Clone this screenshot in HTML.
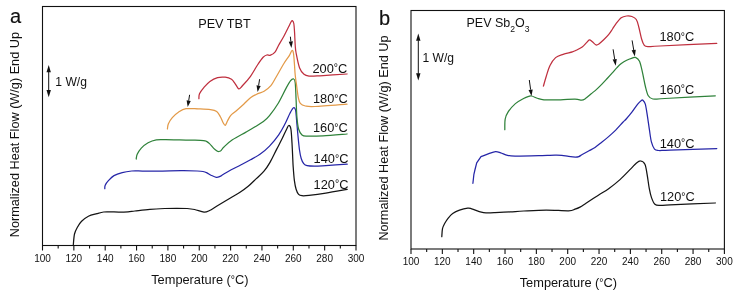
<!DOCTYPE html><html><head><meta charset="utf-8"><style>html,body{margin:0;padding:0;background:#fff;width:737px;height:294px;overflow:hidden}svg{display:block;will-change:transform}text{font-family:"Liberation Sans",sans-serif;fill:#111}</style></head><body>
<svg width="737" height="294" viewBox="0 0 737 294">
<rect x="42.50" y="6.50" width="313.50" height="239.00" fill="none" stroke="#111" stroke-width="1.1"/><line x1="42.50" y1="245.50" x2="42.50" y2="250.50" stroke="#111" stroke-width="1.1"/><text x="42.50" y="261.80" font-size="10" text-anchor="middle">100</text><line x1="58.17" y1="245.50" x2="58.17" y2="248.50" stroke="#111" stroke-width="1.1"/><line x1="73.85" y1="245.50" x2="73.85" y2="250.50" stroke="#111" stroke-width="1.1"/><text x="73.85" y="261.80" font-size="10" text-anchor="middle">120</text><line x1="89.53" y1="245.50" x2="89.53" y2="248.50" stroke="#111" stroke-width="1.1"/><line x1="105.20" y1="245.50" x2="105.20" y2="250.50" stroke="#111" stroke-width="1.1"/><text x="105.20" y="261.80" font-size="10" text-anchor="middle">140</text><line x1="120.88" y1="245.50" x2="120.88" y2="248.50" stroke="#111" stroke-width="1.1"/><line x1="136.55" y1="245.50" x2="136.55" y2="250.50" stroke="#111" stroke-width="1.1"/><text x="136.55" y="261.80" font-size="10" text-anchor="middle">160</text><line x1="152.23" y1="245.50" x2="152.23" y2="248.50" stroke="#111" stroke-width="1.1"/><line x1="167.90" y1="245.50" x2="167.90" y2="250.50" stroke="#111" stroke-width="1.1"/><text x="167.90" y="261.80" font-size="10" text-anchor="middle">180</text><line x1="183.58" y1="245.50" x2="183.58" y2="248.50" stroke="#111" stroke-width="1.1"/><line x1="199.25" y1="245.50" x2="199.25" y2="250.50" stroke="#111" stroke-width="1.1"/><text x="199.25" y="261.80" font-size="10" text-anchor="middle">200</text><line x1="214.93" y1="245.50" x2="214.93" y2="248.50" stroke="#111" stroke-width="1.1"/><line x1="230.60" y1="245.50" x2="230.60" y2="250.50" stroke="#111" stroke-width="1.1"/><text x="230.60" y="261.80" font-size="10" text-anchor="middle">220</text><line x1="246.28" y1="245.50" x2="246.28" y2="248.50" stroke="#111" stroke-width="1.1"/><line x1="261.95" y1="245.50" x2="261.95" y2="250.50" stroke="#111" stroke-width="1.1"/><text x="261.95" y="261.80" font-size="10" text-anchor="middle">240</text><line x1="277.62" y1="245.50" x2="277.62" y2="248.50" stroke="#111" stroke-width="1.1"/><line x1="293.30" y1="245.50" x2="293.30" y2="250.50" stroke="#111" stroke-width="1.1"/><text x="293.30" y="261.80" font-size="10" text-anchor="middle">260</text><line x1="308.98" y1="245.50" x2="308.98" y2="248.50" stroke="#111" stroke-width="1.1"/><line x1="324.65" y1="245.50" x2="324.65" y2="250.50" stroke="#111" stroke-width="1.1"/><text x="324.65" y="261.80" font-size="10" text-anchor="middle">280</text><line x1="340.32" y1="245.50" x2="340.32" y2="248.50" stroke="#111" stroke-width="1.1"/><line x1="356.00" y1="245.50" x2="356.00" y2="250.50" stroke="#111" stroke-width="1.1"/><text x="356.00" y="261.80" font-size="10" text-anchor="middle">300</text>
<text x="10" y="23" font-size="20" stroke="#111" stroke-width="0.15">a</text>
<text transform="translate(18.9 134.6) rotate(-90)" font-size="12.7" text-anchor="middle">Normalized Heat Flow (W/g) End Up</text>
<text x="199.9" y="284.1" font-size="12.8" text-anchor="middle">Temperature (<tspan font-size="10.5" dy="-1.5">°</tspan><tspan dy="1.5">C)</tspan></text>
<text x="198.2" y="27.9" font-size="12.7">PEV TBT</text>
<line x1="48.70" y1="71.70" x2="48.70" y2="90.50" stroke="#111" stroke-width="1"/><polygon points="48.70,65.00 46.50,72.20 50.90,72.20" fill="#111"/><polygon points="48.70,97.20 46.50,90.00 50.90,90.00" fill="#111"/>
<text x="55.3" y="86.1" font-size="12.1">1 W/g</text>
<text x="347.3" y="72.8" font-size="12.8" text-anchor="end">200<tspan font-size="10.5" dy="-1.5">°</tspan><tspan dy="1.5">C</tspan></text>
<text x="347.8" y="103.0" font-size="12.8" text-anchor="end">180<tspan font-size="10.5" dy="-1.5">°</tspan><tspan dy="1.5">C</tspan></text>
<text x="347.8" y="132.4" font-size="12.8" text-anchor="end">160<tspan font-size="10.5" dy="-1.5">°</tspan><tspan dy="1.5">C</tspan></text>
<text x="348.4" y="163.0" font-size="12.8" text-anchor="end">140<tspan font-size="10.5" dy="-1.5">°</tspan><tspan dy="1.5">C</tspan></text>
<text x="348.4" y="188.6" font-size="12.8" text-anchor="end">120<tspan font-size="10.5" dy="-1.5">°</tspan><tspan dy="1.5">C</tspan></text>
<path d="M73.30 245.00 C73.50 243.17 73.82 236.97 74.50 234.00 C75.18 231.03 76.22 229.32 77.40 227.20 C78.58 225.08 79.77 223.13 81.60 221.30 C83.43 219.47 85.85 217.48 88.40 216.20 C90.95 214.92 94.35 214.30 96.90 213.60 C99.45 212.90 101.43 212.28 103.70 212.00 C105.97 211.72 107.95 211.88 110.50 211.90 C113.05 211.92 116.08 212.12 119.00 212.10 C121.92 212.08 125.35 211.98 128.00 211.80 C130.65 211.62 131.25 211.42 134.90 211.00 C138.55 210.58 144.92 209.72 149.90 209.30 C154.88 208.88 160.33 208.67 164.80 208.50 C169.27 208.33 172.97 208.30 176.70 208.30 C180.43 208.30 184.22 208.30 187.20 208.50 C190.18 208.70 191.80 208.90 194.60 209.50 C197.40 210.10 201.50 211.93 204.00 212.10 C206.50 212.27 207.43 211.52 209.60 210.50 C211.77 209.48 213.53 208.08 217.00 206.00 C220.47 203.92 226.57 200.28 230.40 198.00 C234.23 195.72 237.03 194.25 240.00 192.30 C242.97 190.35 245.48 188.58 248.20 186.30 C250.92 184.02 253.67 181.12 256.30 178.60 C258.93 176.08 261.72 173.90 264.00 171.20 C266.28 168.50 267.90 166.03 270.00 162.40 C272.10 158.77 274.55 153.42 276.60 149.40 C278.65 145.38 280.63 141.67 282.30 138.30 C283.97 134.93 285.52 131.33 286.60 129.20 C287.68 127.07 288.08 125.53 288.80 125.50 C289.52 125.47 290.37 126.08 290.90 129.00 C291.43 131.92 291.72 138.67 292.00 143.00 C292.28 147.33 292.40 151.00 292.60 155.00 C292.80 159.00 292.90 162.72 293.20 167.00 C293.50 171.28 293.92 177.00 294.40 180.70 C294.88 184.40 295.40 186.93 296.10 189.20 C296.80 191.47 297.62 193.22 298.60 194.30 C299.58 195.38 300.27 195.52 302.00 195.70 C303.73 195.88 305.03 195.82 309.00 195.40 C312.97 194.98 319.43 194.20 325.80 193.20 C332.17 192.20 343.63 190.03 347.20 189.40" fill="none" stroke="#141414" stroke-width="1.25" stroke-linecap="round" stroke-linejoin="round"/>
<path d="M104.80 188.60 C104.87 188.03 104.57 186.57 105.20 185.20 C105.83 183.83 107.13 182.00 108.60 180.40 C110.07 178.80 111.73 176.90 114.00 175.60 C116.27 174.30 119.25 173.37 122.20 172.60 C125.15 171.83 128.98 171.28 131.70 171.00 C134.42 170.72 136.00 170.87 138.50 170.90 C141.00 170.93 143.75 171.15 146.70 171.20 C149.65 171.25 152.32 171.27 156.20 171.20 C160.08 171.13 165.43 170.88 170.00 170.80 C174.57 170.72 179.07 170.67 183.60 170.70 C188.13 170.73 193.97 170.87 197.20 171.00 C200.43 171.13 201.37 171.18 203.00 171.50 C204.63 171.82 205.67 172.28 207.00 172.90 C208.33 173.52 209.45 174.47 211.00 175.20 C212.55 175.93 214.80 177.10 216.30 177.30 C217.80 177.50 218.80 176.92 220.00 176.40 C221.20 175.88 221.63 175.30 223.50 174.20 C225.37 173.10 228.33 171.33 231.20 169.80 C234.07 168.27 237.48 166.67 240.70 165.00 C243.92 163.33 247.23 161.63 250.50 159.80 C253.77 157.97 257.13 156.28 260.30 154.00 C263.47 151.72 266.43 149.30 269.50 146.10 C272.57 142.90 276.15 138.43 278.70 134.80 C281.25 131.17 282.90 127.93 284.80 124.30 C286.70 120.67 288.65 115.75 290.10 113.00 C291.55 110.25 292.58 108.27 293.50 107.80 C294.42 107.33 295.08 108.10 295.60 110.20 C296.12 112.30 296.23 116.43 296.60 120.40 C296.97 124.37 297.32 129.07 297.80 134.00 C298.28 138.93 298.93 145.92 299.50 150.00 C300.07 154.08 300.50 156.23 301.20 158.50 C301.90 160.77 302.72 162.40 303.70 163.60 C304.68 164.80 305.22 165.27 307.10 165.70 C308.98 166.13 311.88 166.22 315.00 166.20 C318.12 166.18 320.43 165.95 325.80 165.60 C331.17 165.25 343.63 164.35 347.20 164.10" fill="none" stroke="#2626a8" stroke-width="1.25" stroke-linecap="round" stroke-linejoin="round"/>
<path d="M136.20 159.00 C136.37 158.22 136.35 156.12 137.20 154.30 C138.05 152.48 139.48 150.03 141.30 148.10 C143.12 146.17 145.60 144.08 148.10 142.70 C150.60 141.32 153.35 140.32 156.30 139.80 C159.25 139.28 161.95 139.58 165.80 139.60 C169.65 139.62 174.53 139.80 179.40 139.90 C184.27 140.00 190.98 140.08 195.00 140.20 C199.02 140.32 201.58 140.40 203.50 140.60 C205.42 140.80 205.50 140.90 206.50 141.40 C207.50 141.90 208.30 142.43 209.50 143.60 C210.70 144.77 212.45 147.17 213.70 148.40 C214.95 149.63 216.15 150.48 217.00 151.00 C217.85 151.52 218.13 151.57 218.80 151.50 C219.47 151.43 220.15 151.35 221.00 150.60 C221.85 149.85 222.00 148.80 223.90 147.00 C225.80 145.20 228.72 142.28 232.40 139.80 C236.08 137.32 242.37 134.18 246.00 132.10 C249.63 130.02 251.30 129.07 254.20 127.30 C257.10 125.53 260.85 123.45 263.40 121.50 C265.95 119.55 267.00 118.68 269.50 115.60 C272.00 112.52 275.65 107.53 278.40 103.00 C281.15 98.47 283.97 92.12 286.00 88.40 C288.03 84.68 289.37 82.28 290.60 80.70 C291.83 79.12 292.63 78.63 293.40 78.90 C294.17 79.17 294.75 78.78 295.20 82.30 C295.65 85.82 295.82 94.22 296.10 100.00 C296.38 105.78 296.48 112.17 296.90 117.00 C297.32 121.83 297.75 126.02 298.60 129.00 C299.45 131.98 300.58 133.72 302.00 134.90 C303.42 136.08 303.60 135.95 307.10 136.10 C310.60 136.25 316.35 136.15 323.00 135.80 C329.65 135.45 343.00 134.30 347.00 134.00" fill="none" stroke="#2f823a" stroke-width="1.25" stroke-linecap="round" stroke-linejoin="round"/>
<path d="M167.40 129.00 C167.57 128.12 167.58 125.60 168.40 123.70 C169.22 121.80 170.63 119.52 172.30 117.60 C173.97 115.68 176.12 113.68 178.40 112.20 C180.68 110.72 182.68 109.25 186.00 108.70 C189.32 108.15 194.22 108.75 198.30 108.90 C202.38 109.05 207.43 109.17 210.50 109.60 C213.57 110.03 215.03 110.27 216.70 111.50 C218.37 112.73 219.45 115.17 220.50 117.00 C221.55 118.83 222.20 121.12 223.00 122.50 C223.80 123.88 224.53 125.58 225.30 125.30 C226.07 125.02 226.72 122.42 227.60 120.80 C228.48 119.18 229.23 117.20 230.60 115.60 C231.97 114.00 233.62 113.10 235.80 111.20 C237.98 109.30 241.25 106.43 243.70 104.20 C246.15 101.97 248.23 99.52 250.50 97.80 C252.77 96.08 255.03 95.00 257.30 93.90 C259.57 92.80 261.83 92.58 264.10 91.20 C266.37 89.82 268.92 87.92 270.90 85.60 C272.88 83.28 273.88 80.90 276.00 77.30 C278.12 73.70 281.38 67.62 283.60 64.00 C285.82 60.38 287.90 57.85 289.30 55.60 C290.70 53.35 291.30 50.85 292.00 50.50 C292.70 50.15 293.08 51.08 293.50 53.50 C293.92 55.92 294.22 61.42 294.50 65.00 C294.78 68.58 294.82 71.33 295.20 75.00 C295.58 78.67 296.28 83.23 296.80 87.00 C297.32 90.77 297.72 94.87 298.30 97.60 C298.88 100.33 299.12 102.00 300.30 103.40 C301.48 104.80 302.95 105.48 305.40 106.00 C307.85 106.52 308.07 106.82 315.00 106.50 C321.93 106.18 341.67 104.50 347.00 104.10" fill="none" stroke="#e39a48" stroke-width="1.25" stroke-linecap="round" stroke-linejoin="round"/>
<path d="M198.90 98.60 C199.00 97.78 198.68 95.53 199.50 93.70 C200.32 91.87 202.07 89.65 203.80 87.60 C205.53 85.55 207.60 83.07 209.90 81.40 C212.20 79.73 215.05 78.30 217.60 77.60 C220.15 76.90 222.88 76.92 225.20 77.20 C227.52 77.48 229.83 78.20 231.50 79.30 C233.17 80.40 233.98 82.22 235.20 83.80 C236.42 85.38 237.60 88.47 238.80 88.80 C240.00 89.13 240.45 87.88 242.40 85.80 C244.35 83.72 247.98 79.77 250.50 76.30 C253.02 72.83 255.40 68.17 257.50 65.00 C259.60 61.83 261.55 58.97 263.10 57.30 C264.65 55.63 265.57 55.35 266.80 55.00 C268.03 54.65 269.10 55.73 270.50 55.20 C271.90 54.67 273.87 53.42 275.20 51.80 C276.53 50.18 277.15 47.92 278.50 45.50 C279.85 43.08 281.63 40.38 283.30 37.30 C284.97 34.22 287.22 29.55 288.50 27.00 C289.78 24.45 290.37 23.07 291.00 22.00 C291.63 20.93 291.83 20.35 292.30 20.60 C292.77 20.85 293.42 21.43 293.80 23.50 C294.18 25.57 294.37 29.42 294.60 33.00 C294.83 36.58 294.95 41.67 295.20 45.00 C295.45 48.33 295.38 49.22 296.10 53.00 C296.82 56.78 298.18 64.15 299.50 67.70 C300.82 71.25 302.42 72.90 304.00 74.30 C305.58 75.70 306.33 75.85 309.00 76.10 C311.67 76.35 313.67 76.15 320.00 75.80 C326.33 75.45 342.50 74.30 347.00 74.00" fill="none" stroke="#bf2f3e" stroke-width="1.25" stroke-linecap="round" stroke-linejoin="round"/>
<line x1="189.60" y1="94.80" x2="188.69" y2="100.68" stroke="#111" stroke-width="1"/><polygon points="187.70,107.10 186.62,100.36 190.77,101.00" fill="#111"/>
<line x1="259.60" y1="79.20" x2="258.60" y2="85.58" stroke="#111" stroke-width="1"/><polygon points="257.60,92.00 256.53,85.25 260.68,85.90" fill="#111"/>
<line x1="290.40" y1="36.70" x2="290.83" y2="41.53" stroke="#111" stroke-width="1"/><polygon points="291.40,48.00 288.74,41.71 292.92,41.34" fill="#111"/>
<rect x="411.00" y="10.50" width="313.40" height="238.50" fill="none" stroke="#111" stroke-width="1.1"/><line x1="411.00" y1="249.00" x2="411.00" y2="254.00" stroke="#111" stroke-width="1.1"/><text x="411.00" y="265.20" font-size="10" text-anchor="middle">100</text><line x1="426.67" y1="249.00" x2="426.67" y2="252.00" stroke="#111" stroke-width="1.1"/><line x1="442.34" y1="249.00" x2="442.34" y2="254.00" stroke="#111" stroke-width="1.1"/><text x="442.34" y="265.20" font-size="10" text-anchor="middle">120</text><line x1="458.01" y1="249.00" x2="458.01" y2="252.00" stroke="#111" stroke-width="1.1"/><line x1="473.68" y1="249.00" x2="473.68" y2="254.00" stroke="#111" stroke-width="1.1"/><text x="473.68" y="265.20" font-size="10" text-anchor="middle">140</text><line x1="489.35" y1="249.00" x2="489.35" y2="252.00" stroke="#111" stroke-width="1.1"/><line x1="505.02" y1="249.00" x2="505.02" y2="254.00" stroke="#111" stroke-width="1.1"/><text x="505.02" y="265.20" font-size="10" text-anchor="middle">160</text><line x1="520.69" y1="249.00" x2="520.69" y2="252.00" stroke="#111" stroke-width="1.1"/><line x1="536.36" y1="249.00" x2="536.36" y2="254.00" stroke="#111" stroke-width="1.1"/><text x="536.36" y="265.20" font-size="10" text-anchor="middle">180</text><line x1="552.03" y1="249.00" x2="552.03" y2="252.00" stroke="#111" stroke-width="1.1"/><line x1="567.70" y1="249.00" x2="567.70" y2="254.00" stroke="#111" stroke-width="1.1"/><text x="567.70" y="265.20" font-size="10" text-anchor="middle">200</text><line x1="583.37" y1="249.00" x2="583.37" y2="252.00" stroke="#111" stroke-width="1.1"/><line x1="599.04" y1="249.00" x2="599.04" y2="254.00" stroke="#111" stroke-width="1.1"/><text x="599.04" y="265.20" font-size="10" text-anchor="middle">220</text><line x1="614.71" y1="249.00" x2="614.71" y2="252.00" stroke="#111" stroke-width="1.1"/><line x1="630.38" y1="249.00" x2="630.38" y2="254.00" stroke="#111" stroke-width="1.1"/><text x="630.38" y="265.20" font-size="10" text-anchor="middle">240</text><line x1="646.05" y1="249.00" x2="646.05" y2="252.00" stroke="#111" stroke-width="1.1"/><line x1="661.72" y1="249.00" x2="661.72" y2="254.00" stroke="#111" stroke-width="1.1"/><text x="661.72" y="265.20" font-size="10" text-anchor="middle">260</text><line x1="677.39" y1="249.00" x2="677.39" y2="252.00" stroke="#111" stroke-width="1.1"/><line x1="693.06" y1="249.00" x2="693.06" y2="254.00" stroke="#111" stroke-width="1.1"/><text x="693.06" y="265.20" font-size="10" text-anchor="middle">280</text><line x1="708.73" y1="249.00" x2="708.73" y2="252.00" stroke="#111" stroke-width="1.1"/><line x1="724.40" y1="249.00" x2="724.40" y2="254.00" stroke="#111" stroke-width="1.1"/><text x="724.40" y="265.20" font-size="10" text-anchor="middle">300</text>
<text x="379" y="24.9" font-size="20" stroke="#111" stroke-width="0.15">b</text>
<text transform="translate(387.6 138) rotate(-90)" font-size="12.7" text-anchor="middle">Normalized Heat Flow (W/g) End Up</text>
<text x="568.4" y="287.3" font-size="12.8" text-anchor="middle">Temperature (<tspan font-size="10.5" dy="-1.5">°</tspan><tspan dy="1.5">C)</tspan></text>
<text x="466.5" y="27.4" font-size="12.5">PEV Sb<tspan font-size="8.6" dy="4.3">2</tspan><tspan dy="-4.3">O</tspan><tspan font-size="8.6" dy="4.3">3</tspan></text>
<line x1="418.30" y1="40.30" x2="418.30" y2="73.80" stroke="#111" stroke-width="1"/><polygon points="418.30,33.60 416.10,40.80 420.50,40.80" fill="#111"/><polygon points="418.30,80.50 416.10,73.30 420.50,73.30" fill="#111"/>
<text x="422.5" y="62.3" font-size="12.1">1 W/g</text>
<text x="694.3" y="41.2" font-size="12.8" text-anchor="end">180<tspan font-size="10.5" dy="-1.5">°</tspan><tspan dy="1.5">C</tspan></text>
<text x="694.3" y="93.7" font-size="12.8" text-anchor="end">160<tspan font-size="10.5" dy="-1.5">°</tspan><tspan dy="1.5">C</tspan></text>
<text x="694.5" y="147.8" font-size="12.8" text-anchor="end">140<tspan font-size="10.5" dy="-1.5">°</tspan><tspan dy="1.5">C</tspan></text>
<text x="694.8" y="201.3" font-size="12.8" text-anchor="end">120<tspan font-size="10.5" dy="-1.5">°</tspan><tspan dy="1.5">C</tspan></text>
<path d="M441.80 236.70 C441.92 235.35 442.05 230.75 442.50 228.60 C442.95 226.45 443.48 225.62 444.50 223.80 C445.52 221.98 447.23 219.40 448.60 217.70 C449.97 216.00 450.88 214.85 452.70 213.60 C454.52 212.35 457.00 211.10 459.50 210.20 C462.00 209.30 465.67 208.43 467.70 208.20 C469.73 207.97 469.43 208.13 471.70 208.80 C473.97 209.47 478.80 211.52 481.30 212.20 C483.80 212.88 484.42 212.82 486.70 212.90 C488.98 212.98 491.12 212.87 495.00 212.70 C498.88 212.53 505.22 212.18 510.00 211.90 C514.78 211.62 517.67 211.30 523.70 211.00 C529.73 210.70 538.72 210.13 546.20 210.10 C553.68 210.07 563.80 210.95 568.60 210.80 C573.40 210.65 573.10 209.82 575.00 209.20 C576.90 208.58 578.17 208.08 580.00 207.10 C581.83 206.12 583.00 205.25 586.00 203.30 C589.00 201.35 594.17 197.88 598.00 195.40 C601.83 192.92 605.33 191.03 609.00 188.40 C612.67 185.77 616.33 182.90 620.00 179.60 C623.67 176.30 628.33 171.28 631.00 168.60 C633.67 165.92 634.42 164.77 636.00 163.50 C637.58 162.23 639.02 160.88 640.50 161.00 C641.98 161.12 643.80 161.98 644.90 164.20 C646.00 166.42 646.37 170.22 647.10 174.30 C647.83 178.38 648.57 184.82 649.30 188.70 C650.03 192.58 650.57 195.02 651.50 197.60 C652.43 200.18 653.42 202.92 654.90 204.20 C656.38 205.48 657.88 205.18 660.40 205.30 C662.92 205.42 660.85 205.28 670.00 204.90 C679.15 204.52 707.75 203.32 715.30 203.00" fill="none" stroke="#141414" stroke-width="1.25" stroke-linecap="round" stroke-linejoin="round"/>
<path d="M472.90 183.30 L473.90 174.30 L474.90 170.00 L476.70 162.90 L481.00 156.70 C482.30 156.18 486.37 154.45 488.80 153.60 C491.23 152.75 493.62 151.73 495.60 151.60 C497.58 151.47 498.72 152.18 500.70 152.80 C502.68 153.42 505.12 154.73 507.50 155.30 C509.88 155.87 512.92 156.07 515.00 156.20 C517.08 156.33 516.03 156.18 520.00 156.10 C523.97 156.02 532.97 155.87 538.80 155.70 C544.63 155.53 551.17 155.17 555.00 155.10 C558.83 155.03 559.53 155.08 561.80 155.30 C564.07 155.52 566.33 156.10 568.60 156.40 C570.87 156.70 573.70 157.07 575.40 157.10 C577.10 157.13 577.67 157.03 578.80 156.60 C579.93 156.17 580.50 155.47 582.20 154.50 C583.90 153.53 586.87 151.98 589.00 150.80 C591.13 149.62 592.93 148.78 595.00 147.40 C597.07 146.02 599.13 144.30 601.40 142.50 C603.67 140.70 606.22 138.67 608.60 136.60 C610.98 134.53 613.32 132.48 615.70 130.10 C618.08 127.72 621.15 124.15 622.90 122.30 C624.65 120.45 624.70 120.68 626.20 119.00 C627.70 117.32 630.02 114.63 631.90 112.20 C633.78 109.77 635.92 106.37 637.50 104.40 C639.08 102.43 640.50 101.08 641.40 100.40 C642.30 99.72 642.25 99.67 642.90 100.30 C643.55 100.93 644.57 101.68 645.30 104.20 C646.03 106.72 646.62 111.15 647.30 115.40 C647.98 119.65 648.72 125.28 649.40 129.70 C650.08 134.12 650.55 138.67 651.40 141.90 C652.25 145.13 653.30 147.67 654.50 149.10 C655.70 150.53 656.02 150.33 658.60 150.50 C661.18 150.67 660.30 150.42 670.00 150.10 C679.70 149.78 709.00 148.85 716.80 148.60" fill="none" stroke="#2626a8" stroke-width="1.25" stroke-linecap="round" stroke-linejoin="round"/>
<path d="M504.80 129.70 C504.87 127.92 504.62 122.00 505.20 119.00 C505.78 116.00 506.60 114.27 508.30 111.70 C510.00 109.13 512.85 105.80 515.40 103.60 C517.95 101.40 521.38 99.70 523.60 98.50 C525.82 97.30 527.35 96.82 528.70 96.40 C530.05 95.98 530.17 95.65 531.70 96.00 C533.23 96.35 535.85 97.87 537.90 98.50 C539.95 99.13 541.15 99.57 544.00 99.80 C546.85 100.03 549.83 100.00 555.00 99.90 C560.17 99.80 570.57 99.15 575.00 99.20 C579.43 99.25 579.87 100.30 581.60 100.20 C583.33 100.10 583.85 99.63 585.40 98.60 C586.95 97.57 589.08 95.50 590.90 94.00 C592.72 92.50 594.50 91.20 596.30 89.60 C598.10 88.00 599.88 86.25 601.70 84.40 C603.52 82.55 605.43 80.42 607.20 78.50 C608.97 76.58 610.67 74.72 612.30 72.90 C613.93 71.08 615.50 69.15 617.00 67.60 C618.50 66.05 619.68 64.82 621.30 63.60 C622.92 62.38 624.88 61.20 626.70 60.30 C628.52 59.40 630.73 58.68 632.20 58.20 C633.67 57.72 634.28 56.88 635.50 57.40 C636.72 57.92 638.35 58.83 639.50 61.30 C640.65 63.77 641.42 68.00 642.40 72.20 C643.38 76.40 644.42 82.57 645.40 86.50 C646.38 90.43 647.07 93.72 648.30 95.80 C649.53 97.88 650.02 98.55 652.80 99.00 C655.58 99.45 654.58 99.03 665.00 98.50 C675.42 97.97 706.92 96.25 715.30 95.80" fill="none" stroke="#2f823a" stroke-width="1.25" stroke-linecap="round" stroke-linejoin="round"/>
<path d="M543.40 86.20 C543.87 84.58 545.10 79.95 546.20 76.50 C547.30 73.05 548.43 68.65 550.00 65.50 C551.57 62.35 553.42 59.47 555.60 57.60 C557.78 55.73 560.30 55.25 563.10 54.30 C565.90 53.35 570.23 52.57 572.40 51.90 C574.57 51.23 574.47 51.13 576.10 50.30 C577.73 49.47 580.50 48.13 582.20 46.90 C583.90 45.67 585.10 44.08 586.30 42.90 C587.50 41.72 588.38 39.98 589.40 39.80 C590.42 39.62 591.30 40.95 592.40 41.80 C593.50 42.65 594.97 44.50 596.00 44.90 C597.03 45.30 597.32 45.05 598.60 44.20 C599.88 43.35 602.00 41.43 603.70 39.80 C605.40 38.17 607.33 36.20 608.80 34.40 C610.27 32.60 611.32 30.75 612.50 29.00 C613.68 27.25 614.45 25.77 615.90 23.90 C617.35 22.03 619.43 19.12 621.20 17.80 C622.97 16.48 624.72 16.22 626.50 16.00 C628.28 15.78 630.27 15.92 631.90 16.50 C633.53 17.08 635.13 17.67 636.30 19.50 C637.47 21.33 638.02 24.25 638.90 27.50 C639.78 30.75 640.72 36.05 641.60 39.00 C642.48 41.95 643.17 43.93 644.20 45.20 C645.23 46.47 645.17 46.47 647.80 46.60 C650.43 46.73 648.50 46.53 660.00 46.00 C671.50 45.47 707.33 43.83 716.80 43.40" fill="none" stroke="#bf2f3e" stroke-width="1.25" stroke-linecap="round" stroke-linejoin="round"/>
<line x1="529.30" y1="80.00" x2="530.62" y2="89.66" stroke="#111" stroke-width="1"/><polygon points="531.50,96.10 528.54,89.94 532.70,89.38" fill="#111"/>
<line x1="613.10" y1="49.30" x2="614.68" y2="59.28" stroke="#111" stroke-width="1"/><polygon points="615.70,65.70 612.61,59.61 616.76,58.95" fill="#111"/>
<line x1="632.10" y1="40.40" x2="633.72" y2="49.99" stroke="#111" stroke-width="1"/><polygon points="634.80,56.40 631.65,50.34 635.79,49.64" fill="#111"/>
</svg></body></html>
